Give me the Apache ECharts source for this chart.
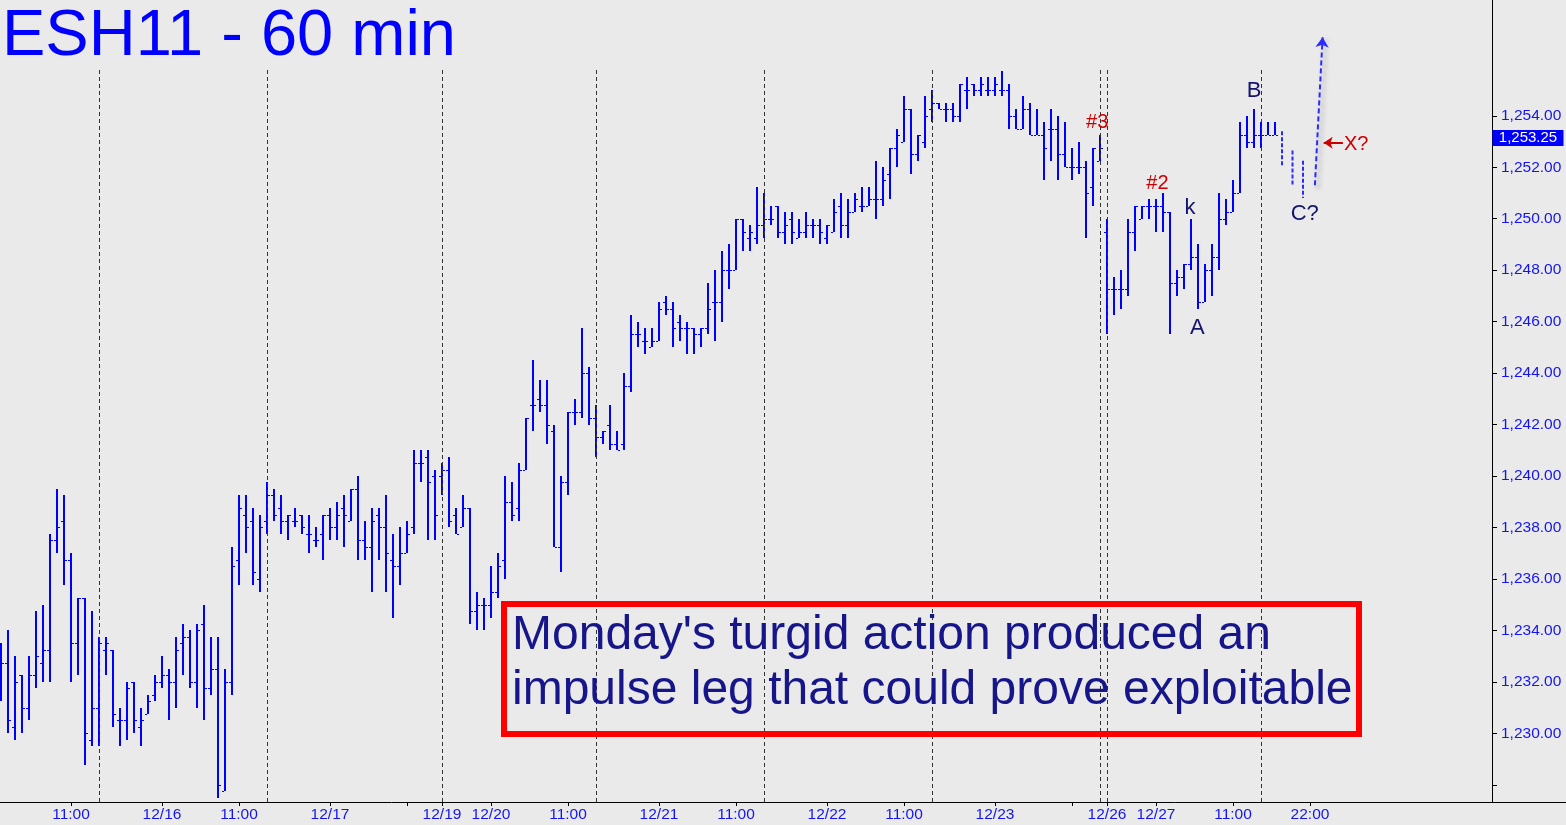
<!DOCTYPE html>
<html>
<head>
<meta charset="utf-8">
<title>ESH11 - 60 min</title>
<script src="https://cdn.jsdelivr.net/npm/echarts@6/dist/echarts.min.js"></script>
<style>
  html, body { margin: 0; padding: 0; background: #eaeaea; }
  #chart { width: 1566px; height: 825px; }
</style>
</head>
<body>
<div id="chart"></div>
<script>
// hourly OHLC bars, one per category index
const opens = [
  1231.75, 1232.75, 1230.25, 1232.25, 1231.0, 1232.25, 1232.75, 1233.25, 1237.5, 1238.25,
  1236.75, 1233.5, 1235.25, 1229.75, 1231.0, 1233.25, 1233.25, 1230.5, 1230.5, 1232.0,
  1230.25, 1230.75, 1231.5, 1232.0, 1232.25, 1232.0, 1233.5, 1233.75, 1232.0, 1234.25,
  1231.75, 1232.5, 1227.75, 1232.0, 1236.75, 1238.5, 1238.25, 1236.0, 1238.25, 1239.25,
  1238.75, 1238.25, 1238.25, 1238.5, 1237.75, 1237.5, 1237.75, 1238.5, 1238.0, 1238.75,
  1238.25, 1239.5, 1237.5, 1237.25, 1238.5, 1238.0, 1236.75, 1236.5, 1237.0, 1238.0,
  1240.5, 1240.75, 1240.0, 1240.0, 1240.25, 1238.5, 1238.0, 1238.75, 1234.75, 1235.0,
  1235.0, 1235.5, 1236.75, 1239.0, 1238.75, 1240.25, 1242.75, 1243.0, 1242.75, 1241.75,
  1237.25, 1239.75, 1242.5, 1242.5, 1244.0, 1242.25, 1241.5, 1242.0, 1241.25, 1241.25,
  1243.5, 1245.5, 1245.25, 1245.0, 1245.25, 1246.75, 1246.5, 1246.0, 1245.75, 1245.75,
  1245.5, 1245.75, 1246.75, 1246.75, 1248.0, 1248.0, 1250.0, 1249.25, 1249.25, 1249.75,
  1250.0, 1250.5, 1249.5, 1250.0, 1249.25, 1249.5, 1249.75, 1249.75, 1249.25, 1249.5,
  1250.5, 1249.75, 1250.25, 1250.5, 1250.5, 1250.75, 1250.75, 1251.75, 1252.75, 1253.0,
  1254.25, 1252.5, 1253.0, 1254.25, 1254.5, 1254.25, 1254.25, 1254.0, 1255.0, 1255.25,
  1255.0, 1255.0, 1255.0, 1255.0, 1255.0, 1254.0, 1253.5, 1254.25, 1253.25, 1253.25,
  1253.5, 1253.5, 1252.5, 1252.0, 1252.0, 1252.0, 1251.25, 1252.25, 1249.5, 1247.25,
  1247.25, 1247.25, 1249.5, 1250.0, 1250.5, 1250.5, 1250.5, 1250.25, 1247.5, 1247.75,
  1248.25, 1248.5, 1246.75, 1248.0, 1248.5, 1250.0, 1250.25, 1251.0, 1253.25, 1253.0,
  1253.25, 1253.25, 1253.25
];
const highs = [
  1233.5, 1234.0, 1233.0, 1232.25, 1233.0, 1234.75, 1235.0, 1237.75, 1239.5, 1239.25,
  1237.0, 1235.25, 1235.25, 1234.75, 1233.75, 1233.75, 1233.25, 1231.0, 1232.0, 1232.0,
  1231.0, 1231.5, 1232.25, 1233.0, 1232.5, 1233.75, 1234.25, 1234.0, 1234.25, 1235.0,
  1233.75, 1233.75, 1232.5, 1237.25, 1239.25, 1239.25, 1238.75, 1238.5, 1239.75, 1239.5,
  1239.25, 1238.5, 1238.75, 1238.5, 1238.5, 1238.0, 1238.5, 1238.75, 1239.0, 1239.25,
  1239.5, 1240.0, 1238.25, 1238.75, 1238.75, 1239.25, 1237.75, 1238.0, 1238.25, 1241.0,
  1241.0, 1241.0, 1240.25, 1240.5, 1240.75, 1238.75, 1239.25, 1238.75, 1235.5, 1235.25,
  1236.5, 1237.0, 1240.0, 1239.75, 1240.5, 1242.25, 1244.5, 1243.75, 1243.75, 1242.0,
  1240.0, 1242.5, 1243.0, 1245.75, 1244.25, 1242.75, 1241.75, 1242.75, 1241.75, 1244.0,
  1246.25, 1246.0, 1245.75, 1245.75, 1246.75, 1247.0, 1246.75, 1246.25, 1246.0, 1245.75,
  1245.75, 1247.5, 1248.0, 1248.75, 1249.0, 1250.0, 1250.0, 1249.75, 1251.25, 1251.0,
  1250.5, 1250.5, 1250.25, 1250.25, 1250.0, 1250.25, 1250.0, 1250.0, 1249.75, 1250.75,
  1251.0, 1250.75, 1251.0, 1251.25, 1251.25, 1252.25, 1252.0, 1252.75, 1253.5, 1254.75,
  1254.25, 1253.25, 1254.75, 1255.0, 1254.5, 1254.5, 1254.5, 1255.25, 1255.5, 1255.25,
  1255.5, 1255.5, 1255.5, 1255.75, 1255.25, 1254.25, 1254.75, 1254.5, 1254.25, 1253.75,
  1254.25, 1254.0, 1253.75, 1252.75, 1253.0, 1252.25, 1252.75, 1253.25, 1250.0, 1247.75,
  1248.0, 1250.0, 1250.5, 1250.5, 1250.75, 1250.75, 1251.0, 1250.25, 1248.0, 1248.25,
  1250.0, 1249.0, 1248.25, 1249.0, 1251.0, 1250.75, 1251.5, 1253.75, 1254.0, 1254.25,
  1253.75, 1253.75, 1253.75
];
const lows = [
  1231.25, 1230.0, 1229.75, 1230.0, 1230.5, 1231.75, 1232.0, 1232.0, 1237.0, 1235.75,
  1232.0, 1232.25, 1228.75, 1229.5, 1229.5, 1232.25, 1230.25, 1229.5, 1229.75, 1230.0,
  1229.5, 1230.75, 1231.25, 1231.75, 1230.5, 1231.0, 1232.25, 1231.75, 1231.0, 1230.5,
  1231.5, 1227.5, 1227.75, 1231.5, 1235.75, 1237.0, 1235.75, 1235.5, 1237.75, 1238.25,
  1237.75, 1237.5, 1238.0, 1237.75, 1237.0, 1237.25, 1236.75, 1237.5, 1237.5, 1237.25,
  1238.25, 1236.75, 1236.75, 1235.5, 1236.75, 1235.5, 1234.5, 1235.75, 1237.0, 1237.75,
  1239.75, 1237.5, 1237.5, 1239.25, 1238.0, 1237.75, 1238.0, 1234.25, 1234.0, 1234.0,
  1234.5, 1235.25, 1236.0, 1238.25, 1238.25, 1240.25, 1241.75, 1242.5, 1241.25, 1237.25,
  1236.25, 1239.25, 1242.0, 1242.25, 1242.0, 1240.75, 1241.25, 1241.0, 1241.0, 1241.0,
  1243.25, 1245.0, 1244.75, 1245.0, 1245.25, 1246.25, 1245.0, 1245.25, 1244.75, 1244.75,
  1245.0, 1245.5, 1245.25, 1246.0, 1247.25, 1248.0, 1248.75, 1248.75, 1249.0, 1249.25,
  1249.75, 1249.25, 1249.0, 1249.0, 1249.25, 1249.25, 1249.25, 1249.0, 1249.0, 1249.5,
  1249.25, 1249.25, 1250.25, 1250.25, 1250.5, 1250.0, 1250.5, 1250.75, 1252.0, 1253.0,
  1251.75, 1252.25, 1252.75, 1253.75, 1254.25, 1253.75, 1253.75, 1253.75, 1254.25, 1254.75,
  1254.75, 1254.75, 1254.75, 1254.75, 1253.5, 1253.5, 1253.5, 1253.25, 1253.25, 1251.5,
  1252.25, 1251.5, 1252.0, 1251.5, 1251.75, 1249.25, 1250.5, 1252.25, 1245.5, 1246.25,
  1246.5, 1247.0, 1248.75, 1250.0, 1250.0, 1249.5, 1249.5, 1245.5, 1247.0, 1247.25,
  1248.0, 1246.5, 1246.75, 1247.0, 1248.0, 1249.75, 1250.25, 1251.0, 1252.75, 1252.75,
  1252.75, 1253.25, 1253.25
];
const closes = [
  1232.75, 1230.5, 1232.0, 1231.0, 1232.25, 1233.0, 1233.25, 1237.5, 1238.0, 1236.75,
  1233.5, 1235.25, 1230.0, 1231.0, 1233.5, 1233.5, 1230.75, 1230.5, 1231.75, 1230.5,
  1230.5, 1231.25, 1232.0, 1232.25, 1232.0, 1233.25, 1233.75, 1232.0, 1234.0, 1231.75,
  1232.5, 1228.0, 1232.0, 1236.5, 1238.75, 1238.0, 1236.25, 1238.0, 1239.25, 1238.5,
  1238.25, 1238.5, 1238.25, 1238.0, 1237.75, 1237.5, 1238.5, 1238.0, 1238.5, 1238.5,
  1239.5, 1237.5, 1237.25, 1238.25, 1238.0, 1237.0, 1236.5, 1237.0, 1237.75, 1240.5,
  1240.5, 1239.75, 1238.5, 1240.25, 1238.25, 1237.75, 1238.75, 1234.75, 1235.0, 1235.0,
  1235.5, 1236.5, 1239.0, 1238.5, 1240.25, 1242.25, 1242.75, 1242.75, 1242.0, 1237.25,
  1239.75, 1242.5, 1242.5, 1244.0, 1242.25, 1241.5, 1241.75, 1241.25, 1241.0, 1243.5,
  1245.5, 1245.5, 1245.25, 1245.25, 1246.5, 1246.5, 1245.75, 1245.75, 1245.75, 1245.5,
  1245.75, 1246.5, 1246.75, 1248.0, 1248.0, 1250.0, 1249.5, 1249.5, 1249.75, 1250.0,
  1250.0, 1249.5, 1249.75, 1249.5, 1249.5, 1249.75, 1249.75, 1249.5, 1249.75, 1250.25,
  1249.75, 1250.25, 1250.75, 1250.5, 1250.75, 1250.75, 1251.5, 1252.75, 1253.25, 1254.25,
  1252.5, 1253.25, 1254.0, 1254.5, 1254.25, 1254.25, 1254.0, 1255.25, 1255.0, 1255.0,
  1255.25, 1255.0, 1255.25, 1255.0, 1254.0, 1253.5, 1254.25, 1253.25, 1253.25, 1252.75,
  1253.5, 1252.5, 1252.0, 1252.0, 1252.0, 1251.0, 1252.75, 1252.75, 1247.25, 1247.25,
  1247.25, 1249.5, 1250.5, 1250.5, 1250.5, 1250.5, 1250.25, 1247.5, 1247.75, 1248.25,
  1248.5, 1246.75, 1248.0, 1248.5, 1250.0, 1250.25, 1251.0, 1253.25, 1253.0, 1253.25,
  1253.25, 1253.25, 1253.25
];

// projected bars (dashed) after the last real bar
const projX = [183, 184.5, 186];
const projHigh = [1253.4, 1252.65, 1252.25];
const projLow = [1252.0, 1251.25, 1250.8];

// x-axis ticks (bar index) and their labels; '' = tick without label
const tickIdx = [10, 23, 34, 47, 58, 63, 70, 81, 94, 105, 118, 129, 142, 153, 158, 165, 176, 187];
const tickLabels = ['11:00', '12/16', '11:00', '12/17', '', '12/19', '12/20', '11:00', '12/21', '11:00',
  '12/22', '11:00', '12/23', '', '12/26', '12/27', '11:00', '22:00'];
const sessionBreaks = [14, 38, 63, 85, 109, 133, 157, 158, 180];

const priceTicks = [1228, 1230, 1232, 1234, 1236, 1238, 1240, 1242, 1244, 1246, 1248, 1250, 1252, 1254];
const priceLabels = [1230, 1232, 1234, 1236, 1238, 1240, 1242, 1244, 1246, 1248, 1250, 1252, 1254];
const lastPrice = 1253.25;

// wave annotations: [text, bar index, price, colour]
const notes = [
  ['#3', 156.6, 1253.75, '#cc0000'],
  ['#2', 165.2, 1251.35, '#cc0000'],
  ['k', 169.85, 1250.4, '#14146e'],
  ['A', 170.9, 1245.75, '#14146e'],
  ['B', 179.0, 1254.95, '#14146e'],
  ['C?', 186.25, 1250.2, '#14146e'],
  ['X?', 193.6, 1252.9, '#cc0000']
];

const font = "'Liberation Sans', Arial, sans-serif";
const blue = '#0000ff';
const xMin = -1 / 7, xMax = xMin + 1566 / 7;
const yMin = 1227.33, yMax = 1258.5;

const chart = echarts.init(document.getElementById('chart'));

const barData = opens.map((o, i) => [i, o, highs[i], lows[i], closes[i]]);
const projData = projX.map((x, i) => [x, projHigh[i], projLow[i]]);

function renderBar(params, api) {
  const x = api.value(0);
  const o = api.coord([x, api.value(1)]);
  const h = api.coord([x, api.value(2)]);
  const l = api.coord([x, api.value(3)]);
  const c = api.coord([x, api.value(4)]);
  const cx = Math.round(o[0]);
  const top = Math.round(h[1]), bot = Math.round(l[1]);
  return {
    type: 'group',
    children: [
      { type: 'rect', shape: { x: cx - 1, y: top, width: 2, height: Math.max(1, bot - top) }, style: { fill: blue } },
      { type: 'rect', shape: { x: cx - 3, y: Math.round(o[1]), width: 2, height: 1 }, style: { fill: blue } },
      { type: 'rect', shape: { x: cx + 1, y: Math.round(c[1]), width: 2, height: 1 }, style: { fill: blue } }
    ]
  };
}

function renderProj(params, api) {
  const h = api.coord([api.value(0), api.value(1)]);
  const l = api.coord([api.value(0), api.value(2)]);
  return {
    type: 'line',
    shape: { x1: h[0], y1: h[1], x2: l[0], y2: l[1] },
    style: { stroke: '#2a2aff', lineWidth: 2, lineDash: [4, 2] }
  };
}

const breakLines = sessionBreaks.map(i => [
  { coord: [i, 1255.78] },
  { coord: [i, yMin] }
]);

chart.setOption({
  animation: false,
  backgroundColor: '#eaeaea',
  title: {
    text: 'ESH11 - 60 min',
    left: 2,
    top: 5,
    padding: 0,
    textStyle: { fontSize: 65, fontWeight: 'normal', color: blue, fontFamily: font }
  },
  grid: { left: 0, right: 0, top: 0, bottom: 23 },
  xAxis: {
    type: 'value',
    min: xMin,
    max: xMax,
    splitLine: { show: false },
    axisLine: { onZero: false, lineStyle: { color: '#000', width: 1 } },
    axisTick: { customValues: tickIdx, length: 4, lineStyle: { color: '#000' } },
    axisLabel: {
      customValues: tickIdx.filter((v, i) => tickLabels[i] !== ''),
      formatter: v => tickLabels[tickIdx.indexOf(v)],
      color: '#1414f0',
      fontSize: 15.5,
      fontFamily: font,
      margin: 5
    }
  },
  yAxis: {
    type: 'value',
    position: 'right',
    offset: -74,
    min: yMin,
    max: yMax,
    splitLine: { show: false },
    axisLine: { show: true, onZero: false, lineStyle: { color: '#000', width: 1 } },
    axisTick: { show: true, customValues: priceTicks, length: 5, lineStyle: { color: '#000' } },
    axisLabel: {
      customValues: priceLabels,
      formatter: v => v.toLocaleString('en-US', { minimumFractionDigits: 2, maximumFractionDigits: 2 }),
      color: '#1414f0',
      fontSize: 15.5,
      fontFamily: font,
      margin: 9
    }
  },
  series: [
    {
      type: 'custom',
      name: 'ESH11',
      data: barData,
      encode: { x: 0, y: [1, 2, 3, 4] },
      renderItem: renderBar,
      z: 3,
      markLine: {
        silent: true,
        symbol: ['none', 'none'],
        label: { show: false },
        data: breakLines.map(d => [
          Object.assign({ lineStyle: { color: '#333', width: 1, type: [4, 3] } }, d[0]),
          d[1]
        ]).concat([
          [
            { coord: [187.7, 1251.3], lineStyle: { color: '#2a2aff', width: 2, type: [5, 3], shadowColor: 'rgba(0,0,0,0.35)', shadowBlur: 5, shadowOffsetX: 3, shadowOffsetY: 3 } },
            { coord: [188.8, 1257.05], symbol: 'arrow', symbolSize: 10 }
          ],
          [
            { coord: [191.7, 1252.95], lineStyle: { color: '#cc0000', width: 2, type: 'solid' } },
            { coord: [188.95, 1252.95], symbol: 'arrow', symbolSize: 9 }
          ]
        ])
      },
      markPoint: {
        silent: true,
        data: notes.map(n => ({
          coord: [n[1], n[2]],
          symbol: 'circle',
          symbolSize: 0,
          label: { show: true, position: 'inside', formatter: n[0], color: n[3], fontSize: n[3] === '#cc0000' ? 20 : 22, fontFamily: font }
        })).concat([{
          coord: [213 + 36 / 7, lastPrice],
          symbol: 'rect',
          symbolSize: [71, 16],
          symbolOffset: [0, 3],
          itemStyle: { color: blue },
          label: {
            show: true, position: 'inside', color: '#fff', fontSize: 15, fontFamily: font,
            formatter: lastPrice.toLocaleString('en-US', { minimumFractionDigits: 2 })
          }
        }])
      }
    },
    {
      type: 'custom',
      name: 'projection',
      data: projData,
      encode: { x: 0, y: [1, 2] },
      renderItem: renderProj,
      z: 3
    }
  ],
  graphic: [
    {
      type: 'rect',
      shape: { x: 504, y: 604, width: 855, height: 130 },
      style: { fill: 'none', stroke: '#ff0000', lineWidth: 6 },
      z: 10
    },
    {
      type: 'text',
      x: 512,
      y: 608,
      style: {
        text: "Monday's turgid action produced an\nimpulse leg that could prove exploitable",
        font: "48px 'Liberation Sans', Arial, sans-serif",
        fill: '#16168a',
        lineHeight: 55
      },
      z: 10
    }
  ]
});
</script>
</body>
</html>
